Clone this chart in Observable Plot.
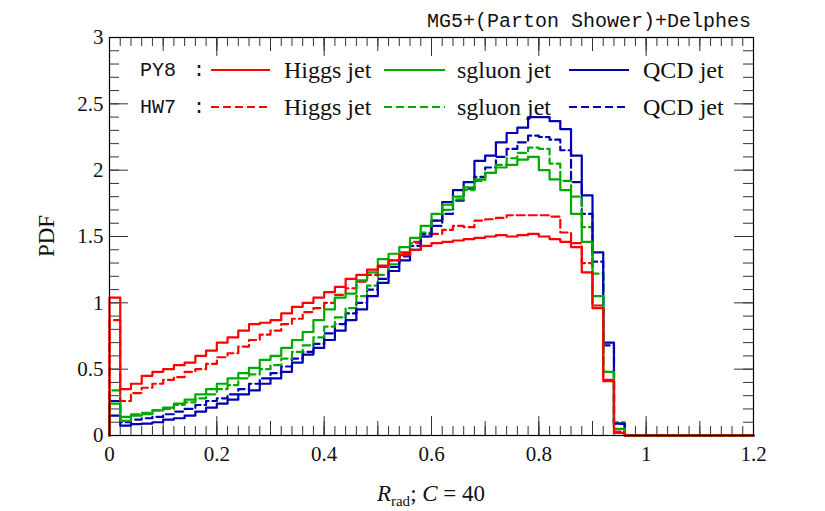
<!DOCTYPE html>
<html>
<head>
<meta charset="utf-8">
<script src="https://cdn.jsdelivr.net/npm/d3@7"></script>
<script src="https://cdn.jsdelivr.net/npm/@observablehq/plot@0.6"></script>
<style>
  body { margin: 0; background: #fff; }
  #chart { width: 825px; height: 511px; }
</style>
</head>
<body>
<div id="chart"></div>
<script>
// Histogram binning of R_rad (C = 40)
const binLow = 0, binHigh = 1.2, binCount = 60;

// PDF per bin, Pythia 8 shower
const pyHiggs = [1.04, 0.35, 0.39, 0.45, 0.48, 0.50, 0.53, 0.55, 0.60, 0.64,
                 0.70, 0.74, 0.79, 0.84, 0.85, 0.87, 0.92, 0.97, 1.00, 1.04,
                 1.08, 1.12, 1.18, 1.21, 1.25, 1.28, 1.32, 1.36, 1.40, 1.43,
                 1.45, 1.46, 1.47, 1.48, 1.49, 1.50, 1.51, 1.50, 1.51, 1.52,
                 1.50, 1.48, 1.46, 1.42, 1.23, 0.96, 0.41, 0.02, 0, 0,
                 0, 0, 0, 0, 0, 0, 0, 0, 0, 0];
const pySgluon = [0.24, 0.11, 0.15, 0.16, 0.19, 0.21, 0.24, 0.27, 0.31, 0.35,
                  0.39, 0.43, 0.47, 0.51, 0.57, 0.60, 0.66, 0.72, 0.78, 0.87,
                  0.95, 1.04, 1.07, 1.17, 1.23, 1.33, 1.37, 1.42, 1.49, 1.58,
                  1.67, 1.74, 1.80, 1.87, 1.93, 1.98, 2.02, 2.04, 2.08, 2.10,
                  2.00, 1.93, 1.85, 1.67, 1.46, 1.05, 0.48, 0.05, 0, 0,
                  0, 0, 0, 0, 0, 0, 0, 0, 0, 0];
const pyQCD = [0.15, 0.075, 0.085, 0.09, 0.10, 0.12, 0.13, 0.15, 0.18, 0.21,
               0.24, 0.27, 0.31, 0.34, 0.39, 0.43, 0.48, 0.55, 0.61, 0.66,
               0.72, 0.79, 0.87, 0.95, 1.05, 1.15, 1.24, 1.32, 1.40, 1.50,
               1.62, 1.76, 1.85, 1.91, 2.07, 2.11, 2.21, 2.28, 2.32, 2.40,
               2.40, 2.37, 2.31, 2.11, 1.81, 1.38, 0.70, 0.09, 0, 0,
               0, 0, 0, 0, 0, 0, 0, 0, 0, 0];

// PDF per bin, Herwig 7 shower
const hwHiggs = [0.87, 0.26, 0.32, 0.36, 0.39, 0.42, 0.44, 0.48, 0.50, 0.54,
                 0.59, 0.62, 0.67, 0.72, 0.76, 0.79, 0.84, 0.88, 0.93, 0.96,
                 1.00, 1.06, 1.11, 1.16, 1.21, 1.27, 1.32, 1.38, 1.46, 1.50,
                 1.52, 1.55, 1.58, 1.57, 1.62, 1.63, 1.64, 1.66, 1.66, 1.66,
                 1.66, 1.65, 1.53, 1.45, 1.30, 0.98, 0.42, 0.03, 0, 0,
                 0, 0, 0, 0, 0, 0, 0, 0, 0, 0];
const hwSgluon = [0.34, 0.14, 0.16, 0.17, 0.19, 0.20, 0.23, 0.25, 0.28, 0.31,
                  0.35, 0.38, 0.43, 0.46, 0.50, 0.53, 0.58, 0.63, 0.68, 0.74,
                  0.82, 0.89, 0.96, 1.05, 1.13, 1.21, 1.29, 1.37, 1.45, 1.53,
                  1.62, 1.70, 1.78, 1.85, 1.92, 1.98, 2.04, 2.09, 2.13, 2.17,
                  2.16, 2.05, 1.92, 1.80, 1.57, 1.22, 0.48, 0.10, 0, 0,
                  0, 0, 0, 0, 0, 0, 0, 0, 0, 0];
const hwQCD = [0.26, 0.10, 0.12, 0.13, 0.14, 0.16, 0.18, 0.20, 0.23, 0.26,
               0.28, 0.31, 0.35, 0.39, 0.43, 0.47, 0.52, 0.58, 0.63, 0.69,
               0.77, 0.84, 0.92, 1.00, 1.10, 1.18, 1.27, 1.35, 1.43, 1.52,
               1.58, 1.67, 1.77, 1.86, 1.95, 2.02, 2.10, 2.16, 2.21, 2.26,
               2.25, 2.23, 2.15, 1.91, 1.67, 1.31, 0.68, 0.09, 0, 0,
               0, 0, 0, 0, 0, 0, 0, 0, 0, 0];

// Axis ticks
const xTicks = [0, 0.2, 0.4, 0.6, 0.8, 1, 1.2];
const yTicks = [0, 0.5, 1, 1.5, 2, 2.5, 3];
const xDomain = [0, 1.2];
const yDomain = [0, 3];

// Legend rows and entries
const generators = ["PY8", "HW7"];
const jetLabels = ["Higgs jet", "sgluon jet", "QCD jet"];
const colors = ["#ff0000", "#00aa00", "#0000b0"];

const binWidth = (binHigh - binLow) / binCount;
function stepPoints(values) {
  const pts = [{x: binLow, y: 0}];
  values.forEach((v, i) => pts.push({x: binLow + i * binWidth, y: v}));
  pts.push({x: binHigh, y: values[values.length - 1]});
  return pts;
}

const series = [
  {values: hwQCD, color: colors[2], dashed: true},
  {values: hwSgluon, color: colors[1], dashed: true},
  {values: hwHiggs, color: colors[0], dashed: true},
  {values: pyQCD, color: colors[2], dashed: false},
  {values: pySgluon, color: colors[1], dashed: false},
  {values: pyHiggs, color: colors[0], dashed: false}
];

const width = 825, height = 511;
const mL = 109, mR = 72, mT = 37, mB = 76;
const W = width - mL - mR, H = height - mT - mB;
const fmt = d3.format("~g");

const xMinor = d3.range(0, 61).map(i => i / 50);
const xMid = d3.range(0, 13).map(i => i / 10);
const yMinor = d3.range(0, 31).map(i => i / 10);

const tickStroke = "#333";
const plot = Plot.plot({
  width, height,
  marginLeft: mL, marginRight: mR, marginTop: mT, marginBottom: mB,
  x: {domain: xDomain},
  y: {domain: yDomain},
  style: {fontFamily: "'Liberation Serif', 'Times New Roman', serif", fontSize: "21px", color: "#111", background: "#fff"},
  marks: [
    // inward ticks on all four sides
    Plot.tickX(xMinor, {x: d => d, insetTop: H - 9, stroke: tickStroke}),
    Plot.tickX(xMid, {x: d => d, insetTop: H - 14, stroke: tickStroke}),
    Plot.tickX(xTicks, {x: d => d, insetTop: H - 19, stroke: tickStroke}),
    Plot.tickX(xMinor, {x: d => d, insetBottom: H - 9, stroke: tickStroke}),
    Plot.tickX(xMid, {x: d => d, insetBottom: H - 14, stroke: tickStroke}),
    Plot.tickX(xTicks, {x: d => d, insetBottom: H - 19, stroke: tickStroke}),
    Plot.tickY(yMinor, {y: d => d, insetRight: W - 10, stroke: tickStroke}),
    Plot.tickY(yTicks, {y: d => d, insetRight: W - 19, stroke: tickStroke}),
    Plot.tickY(yMinor, {y: d => d, insetLeft: W - 10, stroke: tickStroke}),
    Plot.tickY(yTicks, {y: d => d, insetLeft: W - 19, stroke: tickStroke}),
    ...series.map(s => Plot.line(stepPoints(s.values), {
      x: "x", y: "y", curve: "step-after",
      stroke: s.color, strokeWidth: 2.2,
      strokeDasharray: s.dashed ? "8,4" : null
    })),
    Plot.frame({stroke: "#000", strokeWidth: 1.2}),
    Plot.axisX(xTicks, {tickSize: 0, tickPadding: 11, tickFormat: fmt, label: null, fontSize: 21}),
    Plot.axisY(yTicks, {tickSize: 0, tickPadding: 6, tickFormat: fmt, label: null, fontSize: 21})
  ]
});

document.getElementById("chart").appendChild(plot);
const svg = d3.select(plot);
const serif = "'Liberation Serif', 'Times New Roman', serif";
const mono = "'Liberation Mono', 'DejaVu Sans Mono', monospace";

// title
svg.append("text")
  .attr("x", 751).attr("y", 27)
  .attr("text-anchor", "end")
  .attr("font-family", mono).attr("font-size", 20).attr("fill", "#111")
  .text("MG5+(Parton Shower)+Delphes");

// y axis label
svg.append("text")
  .attr("transform", "translate(46,236) rotate(-90)")
  .attr("text-anchor", "middle").attr("dominant-baseline", "central")
  .attr("font-family", serif).attr("font-size", 23).attr("fill", "#111")
  .text("PDF");

// x axis label
const xl = svg.append("text")
  .attr("x", 431).attr("y", 501)
  .attr("text-anchor", "middle")
  .attr("font-family", serif).attr("font-size", 23).attr("fill", "#111");
xl.append("tspan").attr("font-style", "italic").text("R");
xl.append("tspan").attr("font-size", 15).attr("dy", 5).text("rad");
xl.append("tspan").attr("dy", -5).text("; ");
xl.append("tspan").attr("font-style", "italic").text("C");
xl.append("tspan").text(" = 40");

// legend
const rowY = [70, 107];
const lineX = [[211, 270], [384, 445], [569, 629]];
const labelX = [284, 457, 643];
generators.forEach((g, r) => {
  const y = rowY[r];
  svg.append("text").attr("x", 140).attr("y", y)
    .attr("text-anchor", "start").attr("dominant-baseline", "central")
    .attr("font-family", mono).attr("font-size", 20).attr("fill", "#111").text(g);
  svg.append("text").attr("x", 193).attr("y", y)
    .attr("text-anchor", "start").attr("dominant-baseline", "central")
    .attr("font-family", mono).attr("font-size", 20).attr("fill", "#111").text(":");
  jetLabels.forEach((lab, j) => {
    svg.append("line")
      .attr("x1", lineX[j][0]).attr("x2", lineX[j][1])
      .attr("y1", y).attr("y2", y)
      .attr("stroke", colors[j]).attr("stroke-width", 2.2)
      .attr("stroke-dasharray", r === 1 ? "8,4" : null);
    svg.append("text").attr("x", labelX[j]).attr("y", y)
      .attr("text-anchor", "start").attr("dominant-baseline", "central")
      .attr("font-family", serif).attr("font-size", 24).attr("fill", "#111").text(lab);
  });
});
</script>
</body>
</html>
